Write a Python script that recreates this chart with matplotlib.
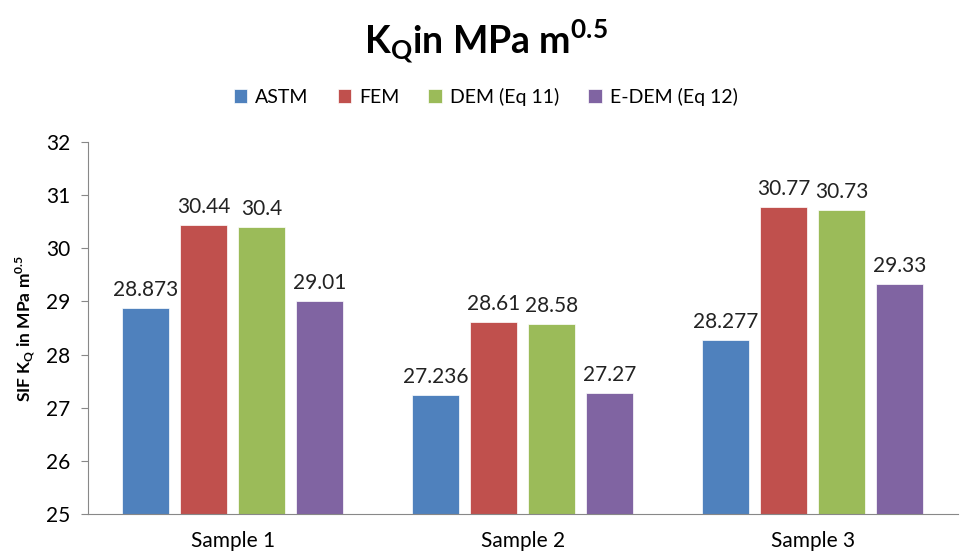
import numpy as np
import matplotlib.pyplot as plt

samples = ["Sample 1", "Sample 2", "Sample 3"]
methods = ["ASTM", "FEM", "DEM (Eq 11)", "E-DEM (Eq 12)"]
astm = [28.873, 27.236, 28.277]
fem = [30.44, 28.61, 30.77]
dem = [30.4, 28.58, 30.73]
edem = [29.01, 27.27, 29.33]
labels = [["28.873", "27.236", "28.277"],
          ["30.44", "28.61", "30.77"],
          ["30.4", "28.58", "30.73"],
          ["29.01", "27.27", "29.33"]]
colors = ["#4F81BD", "#C0504D", "#9BBB59", "#8064A2"]

plt.rcParams['font.family'] = ['Lato', 'DejaVu Sans']

fig = plt.figure(figsize=(9.71, 5.53), dpi=100)
ax = fig.add_axes([0.0906, 0.0705, 0.896, 0.6727])

x = np.arange(len(samples))
pitch = 0.2
width = 0.162
for i, (vals, c) in enumerate(zip([astm, fem, dem, edem], colors)):
    pos = x + (i - 1.5) * pitch
    ax.bar(pos, np.array(vals) - 25, width, bottom=25, color=c,
           label=methods[i], edgecolor='white', linewidth=0.5)
    for xp, v, t in zip(pos, vals, labels[i]):
        ax.text(xp, v + 0.15, t, ha='center', va='bottom', fontsize=15,
                color='#222222')

ax.set_ylim(25, 32)
ax.set_xlim(-0.5, 2.5)
ax.set_yticks(range(25, 33))
ax.set_xticks(x)
ax.set_xticklabels(samples, fontsize=15)
ax.tick_params(axis='y', labelsize=15, length=5, color='#888888', pad=8)
ax.tick_params(axis='x', length=0, pad=12)
for s in ['top', 'right']:
    ax.spines[s].set_visible(False)
ax.spines['left'].set_color('#888888')
ax.spines['bottom'].set_color('#888888')
ax.set_ylabel(r"SIF K$_\mathregular{Q}$ in MPa m$^\mathregular{0.5}$",
              fontsize=12.5, fontweight='bold', labelpad=6)

fig.text(0.5, 0.925, r"K$_\mathregular{Q}$in MPa m$^\mathregular{0.5}$",
         ha='center', va='center', fontsize=27, fontweight='bold')
fig.legend(loc='center', bbox_to_anchor=(0.5, 0.825), ncol=4, frameon=False,
           fontsize=14, handlelength=0.7, handleheight=0.7, columnspacing=1.5,
           handletextpad=0.4)

fig.savefig("out.png", dpi=100)
